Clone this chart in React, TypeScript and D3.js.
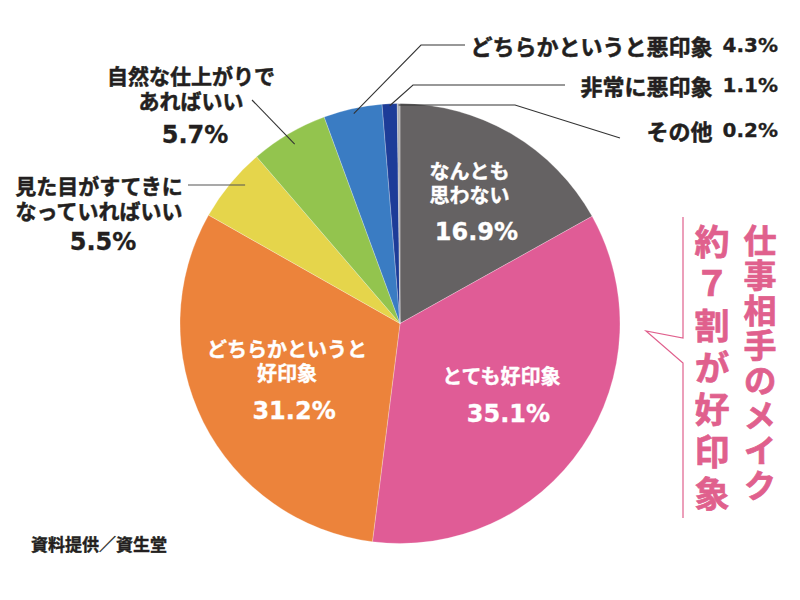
import { useRef, useEffect } from 'react';
import * as d3 from 'd3';

// 仕事相手のメイクについての印象 (%)
const categories = [
  'なんとも思わない',
  'とても好印象',
  'どちらかというと好印象',
  '見た目がすてきになっていればいい',
  '自然な仕上がりであればいい',
  'どちらかというと悪印象',
  '非常に悪印象',
  'その他',
];
const values = [16.9, 35.1, 31.2, 5.5, 5.7, 4.3, 1.1, 0.2];
const sliceColors = ['#656263', '#e05c96', '#ec833b', '#e5d54b', '#93c44e', '#3a7cc3', '#1d3c98', '#b0b0b0'];

// ラベル文字列
const insideLines = [['なんとも', '思わない'], ['とても好印象'], ['どちらかというと', '好印象']];
const sideLines = { 3: ['見た目がすてきに', 'なっていればいい'], 4: ['自然な仕上がりで', 'あればいい'] };
const topRightNames = { 5: 'どちらかというと悪印象', 6: '非常に悪印象', 7: 'その他' };
const calloutRight = '仕事相手のメイク';
const calloutLeft = '約７割が好印象';
const sourceText = '資料提供／資生堂';

const JP = '"Noto Sans CJK JP", "Noto Sans", sans-serif';
const NUM = '"DejaVu Sans", Verdana, sans-serif';
const INK = '#231f20';

export default function App() {
  const svgRef = useRef(null);

  const draw = () => {
    const svg = d3.select(svgRef.current);
    svg.selectAll('*').remove();

    const cx = 400, cy = 323.5, R = 220;
    const g = svg.append('g').attr('transform', `translate(${cx}, ${cy})`);

    const pie = d3.pie<number>().sort(null).value(d => d);
    const arcs = pie(values);
    const arc = d3.arc<any>().innerRadius(0).outerRadius(R);

    // スライス
    g.selectAll('path.slice')
      .data(arcs)
      .enter()
      .append('path')
      .attr('class', 'slice')
      .attr('d', arc)
      .attr('fill', (d, i) => sliceColors[i])
      .attr('stroke', '#ffffff')
      .attr('stroke-opacity', 0.5)
      .attr('stroke-width', 0.5);

    const mid = (a) => (a.startAngle + a.endAngle) / 2;
    const polar = (a, r) => [cx + r * Math.sin(mid(a)), cy - r * Math.cos(mid(a))];

    // 複数行ラベルは1つのtextにtspanで積む
    const block = (x, y, lines, lineGap, opts) => {
      const t = svg.append('text')
        .attr('text-anchor', opts.anchor || 'middle')
        .style('font-family', opts.font || JP)
        .style('font-weight', 700)
        .style('font-size', `${opts.size}px`)
        .style('fill', opts.color || INK)
        .style('stroke', opts.color || INK)
        .style('stroke-width', opts.stroke ?? 0.5);
      lines.forEach((s, k) => {
        t.append('tspan')
          .attr('x', x)
          .attr('y', y + k * lineGap)
          .attr('dominant-baseline', 'central')
          .text(s);
      });
      return t;
    };

    // 内側ラベル（白）
    const insideRadius = [143, 126, 123];
    insideLines.forEach((lines, i) => {
      const a = arcs[i];
      const [px, py] = polar(a, insideRadius[i]);
      const y0 = py - 6 - lines.length * 12;
      block(px - 3, y0, lines, 24, { size: 20, color: '#ffffff', stroke: 0.4 });
      block(px + 4, y0 + (lines.length - 1) * 24 + 38, [`${values[i]}%`], 0,
        { size: 24, color: '#ffffff', font: NUM, stroke: 0.3 });
    });

    // 左側ラベル
    const sideLayout = {
      3: { x: 99, y: 185, ny: 242, nx: 103, lineFrom: [188, 185], r: 207, flat: true },
      4: { x: 191, y: 75, ny: 135, nx: 195, lineFrom: [252, 100], r: 208, flat: false },
    };
    Object.keys(sideLines).forEach(key => {
      const i = +key;
      const L = sideLayout[i];
      block(L.x, L.y, sideLines[i], 25, { size: 21 });
      block(L.nx, L.ny, [`${values[i]}%`], 0, { size: 24, font: NUM, stroke: 0.3 });
      const p = polar(arcs[i], L.r);
      const end = L.flat ? [p[0] + 5, L.lineFrom[1]] : p;
      svg.append('path')
        .attr('d', d3.line()([L.lineFrom, end]))
        .attr('fill', 'none')
        .attr('stroke', L.flat ? '#555' : '#333')
        .attr('stroke-width', 1.1);
    });

    // 右上ラベル
    const topLayout = {
      5: { y: 45, r: 215, elbow: [421, 45], end: [465, 45] },
      6: { y: 85, r: 218, elbow: [413, 85], end: [565, 85] },
      7: { y: 130, r: 219, elbow: [515, 105], end: [620, 138] },
    };
    Object.keys(topRightNames).forEach(key => {
      const i = +key;
      const L = topLayout[i];
      const txt = svg.append('text')
        .attr('x', 778)
        .attr('y', L.y)
        .attr('text-anchor', 'end')
        .attr('dominant-baseline', 'central')
        .style('fill', INK)
        .style('stroke', INK)
        .style('font-weight', 700);
      txt.append('tspan')
        .style('font-family', JP)
        .style('font-size', '22px')
        .style('stroke-width', 0.5)
        .text(topRightNames[i]);
      txt.append('tspan')
        .attr('dx', 10)
        .style('font-family', NUM)
        .style('font-size', '20px')
        .style('stroke-width', 0.3)
        .text(`${values[i]}%`);
      const p = polar(arcs[i], L.r);
      const start = i === 7 ? [p[0], L.elbow[1]] : p;
      svg.append('path')
        .attr('d', d3.line()([start, L.elbow, L.end]))
        .attr('fill', 'none')
        .attr('stroke', '#333')
        .attr('stroke-width', 1.1);
    });

    // 吹き出し
    const pink = '#e0608d';
    svg.append('path')
      .attr('d', d3.line()([[683, 217], [683, 338], [646, 331], [683, 363], [683, 518]]))
      .attr('fill', 'none')
      .attr('stroke', pink)
      .attr('stroke-width', 1.2);

    const vertical = (x, y, t, size, spacing) => {
      svg.append('text')
        .attr('x', x)
        .attr('y', y)
        .attr('text-anchor', 'start')
        .style('writing-mode', 'vertical-rl')
        .style('font-family', JP)
        .style('font-weight', 700)
        .style('font-size', `${size}px`)
        .style('letter-spacing', `${spacing}px`)
        .style('fill', pink)
        .style('stroke', pink)
        .style('stroke-width', 0.7)
        .text(t);
    };
    vertical(760, 224, calloutRight, 33, 2);
    vertical(712, 224, calloutLeft, 35, 7);

    // 出典
    block(31, 543, [sourceText], 0, { size: 17, anchor: 'start', stroke: 0.4 });
  };

  useEffect(() => {
    draw();
  }, []);

  return (
    <svg
      ref={svgRef}
      width={800}
      height={600}
      style={{ position: 'absolute', left: 0, top: 0, background: '#ffffff' }}
    ></svg>
  );
}
